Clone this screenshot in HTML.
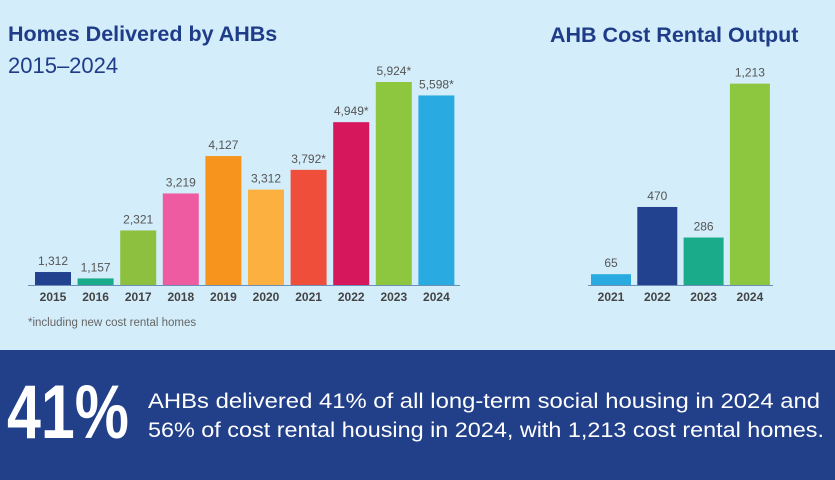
<!DOCTYPE html>
<html><head><meta charset="utf-8"><style>
html,body{margin:0;padding:0}
body{width:835px;height:480px;background:#d3edfa;font-family:"Liberation Sans",sans-serif;overflow:hidden;position:relative}
svg{position:absolute;left:0;top:0}
</style></head><body>
<svg width="835" height="480">
<g id="left">
<text x="8" y="41" font-size="21.5" font-weight="bold" fill="#1f3c88">Homes Delivered by AHBs</text>
<text x="8" y="73" font-size="22" fill="#1f3c88">2015–2024</text>
<line x1="28" y1="285.5" x2="460" y2="285.5" stroke="#6a8fb8" stroke-width="1"/>
<text x="28" y="326" font-size="11.5" fill="#666">*including new cost rental homes</text>
</g>
<g id="right">
<text x="550" y="42" font-size="21.5" font-weight="bold" fill="#1f3c88">AHB Cost Rental Output</text>
<line x1="588" y1="285.5" x2="773" y2="285.5" stroke="#6a8fb8" stroke-width="1"/>
</g>
<rect x="0" y="350" width="835" height="130" fill="#22408a"/>
<text x="7" y="438" font-size="76" font-weight="bold" fill="#fff" textLength="122" lengthAdjust="spacingAndGlyphs">41%</text>
<text x="148" y="408" font-size="21" fill="#fff" textLength="672" lengthAdjust="spacingAndGlyphs">AHBs delivered 41% of all long-term social housing in 2024 and</text>
<text x="148" y="437" font-size="21" fill="#fff" textLength="676" lengthAdjust="spacingAndGlyphs">56% of cost rental housing in 2024, with 1,213 cost rental homes.</text>
</svg>
<script>
const years = ["2015","2016","2017","2018","2019","2020","2021","2022","2023","2024"];
const homes = [1312,1157,2321,3219,4127,3312,3792,4949,5924,5598];
const homesLabels = ["1,312","1,157","2,321","3,219","4,127","3,312","3,792*","4,949*","5,924*","5,598*"];
const homesColors = ["#22418e","#1aab8a","#8dc03f","#ef5ba1","#f7941d","#fbb040","#ef4e3a","#d7175b","#8dc63f","#29abe2"];
const crYears = ["2021","2022","2023","2024"];
const crValues = [65,470,286,1213];
const crLabels = ["65","470","286","1,213"];
const crColors = ["#29abe2","#22418e","#1aab8a","#8dc63f"];

const NS="http://www.w3.org/2000/svg";
function mk(tag,attrs,parent,txt){const e=document.createElementNS(NS,tag);for(const k in attrs)e.setAttribute(k,attrs[k]);if(txt!=null)e.textContent=txt;parent.appendChild(e);return e;}
const base=285;
// left chart
const L=document.getElementById('left');
const lx=i=>35+i*42.6, lw=36;
const ly=v=>0.0412*(v-997);
homes.forEach((v,i)=>{
  const h=Math.max(ly(v),2);
  const r=mk('rect',{x:lx(i),y:base-h,width:lw,height:h,fill:homesColors[i]},L);
  
  
  const t=mk('text',{x:lx(i)+lw/2,y:base-h-7,'font-size':12,fill:'#555','text-anchor':'middle'},L,homesLabels[i]);
  
  
  const y=mk('text',{x:lx(i)+lw/2,y:301,'font-size':12,'font-weight':'bold',fill:'#444','text-anchor':'middle'},L,years[i]);
  
  
});
// right chart
const R=document.getElementById('right');
const rx=i=>591+i*46.3, rw=40;
const ry=v=>0.166*v;
crValues.forEach((v,i)=>{
  const h=ry(v);
  const r=mk('rect',{x:rx(i),y:base-h,width:rw,height:h,fill:crColors[i]},R);
  
  
  const t=mk('text',{x:rx(i)+rw/2,y:base-h-7,'font-size':12,fill:'#555','text-anchor':'middle'},R,crLabels[i]);
  
  
  const y=mk('text',{x:rx(i)+rw/2,y:301,'font-size':12,'font-weight':'bold',fill:'#444','text-anchor':'middle'},R,crYears[i]);
  
  
});
</script>
</body></html>
